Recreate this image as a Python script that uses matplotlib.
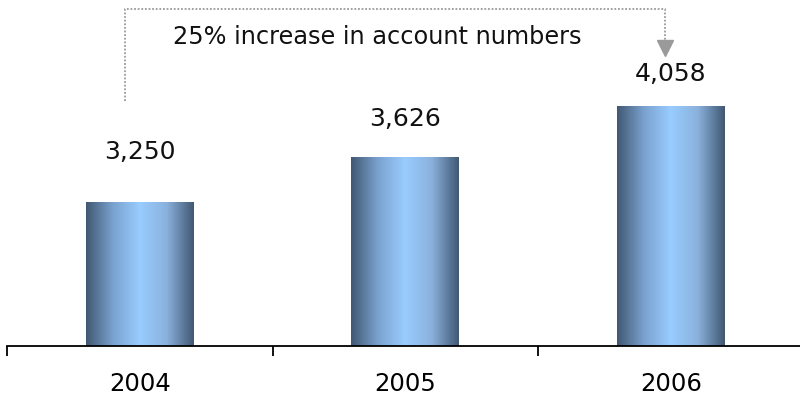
import numpy as np
import matplotlib.pyplot as plt
from matplotlib.colors import LinearSegmentedColormap

# données
years = ['2004', '2005', '2006']
accounts = [3250, 3626, 4058]
note = '25% increase in account numbers'

plt.rcParams['font.family'] = ['DejaVu Sans']

fig = plt.figure(figsize=(8, 3.99), dpi=100)
ax = fig.add_axes([7 / 800, 53 / 399, 796.5 / 800, 346 / 399])

x = np.arange(len(years))
ax.set_xlim(-0.5, 2.5)
ax.set_ylim(2030, 4965)

# barres avec dégradé horizontal
cmap = LinearSegmentedColormap.from_list('bar', ['#415873', '#7aa2cf', '#99ccff', '#8ab1dc', '#415873'])
grad = np.linspace(0, 1, 256).reshape(1, -1)
bars = ax.bar(x, accounts, width=0.405, bottom=0, color='none', edgecolor='none')
for b in bars:
    x0, w, h = b.get_x(), b.get_width(), b.get_height()
    ax.imshow(grad, cmap=cmap, aspect='auto', extent=[x0, x0 + w, 0, h], zorder=2)

# étiquettes de valeur
offsets = [36, 28, 24]
for xi, v, off in zip(x, accounts, offsets):
    ax.annotate(f'{v:,}', (xi, v), xytext=(0, off), textcoords='offset points',
                ha='center', va='center', fontsize=18, color='#111111')

# axes
for s in ['top', 'right', 'left']:
    ax.spines[s].set_visible(False)
ax.spines['bottom'].set_linewidth(1.3)
ax.set_yticks([])
ax.set_xticks(x)
ax.set_xticklabels(years, fontsize=17.5)
ax.tick_params(axis='x', which='major', length=0, pad=19)
ax.set_xticks(np.arange(-0.5, 3, 1), minor=True)
ax.tick_params(axis='x', which='minor', length=7, width=1.3, direction='out')

# accolade pointillée avec flèche
gray = '#9a9a9a'
ax.plot([0.148, 0.148, 0.826, 0.826], [0.708, 0.975, 0.975, 0.88],
        transform=ax.transAxes, color=gray, ls=(0, (1, 1)), lw=1.3,
        clip_on=False)
ax.plot([0.826], [0.862], transform=ax.transAxes, marker='v', ms=11,
        color=gray, mec=gray, clip_on=False)
ax.text(0.465, 0.892, note, transform=ax.transAxes, ha='center', va='center',
        fontsize=17.3, color='#111111')

fig.savefig('out.png', dpi=100)
